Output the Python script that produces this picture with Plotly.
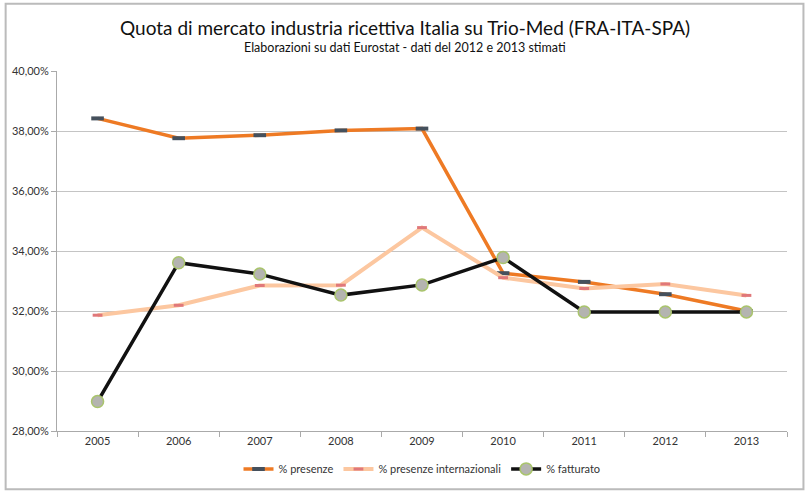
import plotly.graph_objects as go

years = ["2005", "2006", "2007", "2008", "2009", "2010", "2011", "2012", "2013"]
presenze = [38.42, 37.76, 37.86, 38.02, 38.08, 33.26, 32.97, 32.56, 32.0]
presenze_int = [31.86, 32.19, 32.85, 32.86, 34.78, 33.11, 32.75, 32.90, 32.52]
fatturato = [28.98, 33.61, 33.23, 32.53, 32.87, 33.78, 31.97, 31.97, 31.97]

font_family = "Lato, Open Sans, sans-serif"

fig = go.Figure()
fig.add_trace(go.Scatter(
    x=years, y=presenze, name="% presenze", mode="lines+markers",
    line=dict(color="#ee7a24", width=3.5),
    marker=dict(symbol="line-ew", size=9, color="#45505c", line=dict(color="#45505c", width=4)),
))
fig.add_trace(go.Scatter(
    x=years, y=presenze_int, name="% presenze internazionali", mode="lines+markers",
    line=dict(color="#fcc7a0", width=4),
    marker=dict(symbol="line-ew", size=7, color="#e0787a", line=dict(color="#e0787a", width=3)),
))
fig.add_trace(go.Scatter(
    x=years, y=fatturato, name="% fatturato", mode="lines+markers",
    line=dict(color="#111111", width=3.5),
    marker=dict(symbol="circle", size=12, color="#b4b4b0", line=dict(color="#a9c46c", width=1.5)),
))

L, R, T, B = 55, 787, 71, 432
W, H = 807, 495

def px(x):
    return (x - L) / (R - L)

def py(y):
    return (B - y) / (B - T)

fig.update_layout(
    width=W, height=H,
    margin=dict(l=L, r=W - R, t=T, b=H - B),
    paper_bgcolor="white", plot_bgcolor="white",
    separators=",.",
    font=dict(family=font_family, size=11, color="#333333"),
    showlegend=True,
    legend=dict(orientation="h", x=0.5, xanchor="center", y=py(470), yanchor="middle",
                font=dict(size=11, color="#333333"), itemwidth=30, tracegroupgap=0),
    xaxis=dict(
        type="category", showgrid=False, showline=True, linecolor="#aaaaaa", linewidth=1,
        ticks="outside", tickson="boundaries", ticklen=5, tickcolor="#aaaaaa",
        tickfont=dict(size=11, color="#333333"), range=[-0.5, 8.5], fixedrange=True,
    ),
    yaxis=dict(
        range=[28, 40], dtick=2, tickformat=".2f", ticksuffix="%",
        showgrid=True, gridcolor="#c4c4c4", gridwidth=1,
        showline=True, linecolor="#aaaaaa", linewidth=1,
        ticks="outside", ticklen=5, tickcolor="#aaaaaa",
        tickfont=dict(size=11, color="#333333"), zeroline=False,
    ),
    shapes=[dict(type="rect", xref="paper", yref="paper",
                 x0=px(3.5), x1=px(803.5), y0=py(490.5), y1=py(3.5),
                 line=dict(color="#bbbbbb", width=2), fillcolor="rgba(0,0,0,0)", layer="below")],
    annotations=[
        dict(text="Quota di mercato industria ricettiva Italia su Trio-Med (FRA-ITA-SPA)",
             xref="paper", yref="paper", x=px(404), y=py(27), xanchor="center", yanchor="middle",
             showarrow=False, font=dict(size=19, color="#111111", family=font_family)),
        dict(text="Elaborazioni su dati Eurostat - dati del 2012 e 2013 stimati",
             xref="paper", yref="paper", x=px(404), y=py(47), xanchor="center", yanchor="middle",
             showarrow=False, font=dict(size=12.5, color="#111111", family=font_family)),
    ],
)

fig.write_html("out.html")
